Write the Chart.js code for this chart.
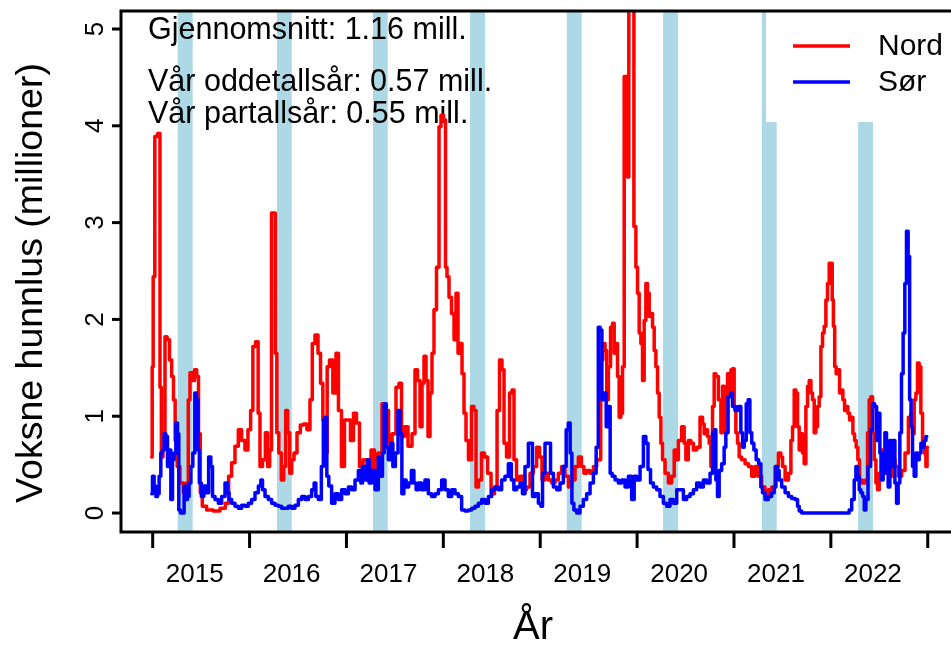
<!DOCTYPE html>
<html><head><meta charset="utf-8">
<script src="https://cdn.jsdelivr.net/npm/chart.js@4.4.0/dist/chart.umd.min.js"></script>
<style>html,body{margin:0;padding:0;background:#fff}#wrap{width:951px;height:646px;position:relative}</style>
</head><body><div id="wrap"><canvas id="c"></canvas></div>
<script>
// ---- data ----
const yearTicks = [2015, 2016, 2017, 2018, 2019, 2020, 2021, 2022, 2023];
const yearLabels = ['2015', '2016', '2017', '2018', '2019', '2020', '2021', '2022'];
const yTicks = [0, 1, 2, 3, 4, 5];
const springStart = [2015.258, 2016.283, 2017.274, 2018.275, 2019.274, 2020.268, 2021.287, 2022.281];
const springEnd   = [2015.413, 2016.435, 2017.426, 2018.430, 2019.428, 2020.423, 2021.441, 2022.435];
const seriesNames = ['Nord', 'Sør'];
const notes = ['Gjennomsnitt: 1.16 mill.', 'Vår oddetallsår: 0.57 mill.', 'Vår partallsår: 0.55 mill.'];
const xTitle = 'År';
const yTitle = 'Voksne hunnlus (millioner)';

const nordX = [2014.990,2015.000,2015.010,2015.034,2015.068,2015.083,2015.096,2015.117,2015.137,2015.161,2015.186,2015.206,2015.223,2015.241,2015.264,2015.299,2015.333,2015.357,2015.378,2015.392,2015.419,2015.444,2015.465,2015.481,2015.502,2015.522,2015.591,2015.661,2015.729,2015.770,2015.798,2015.832,2015.867,2015.901,2015.935,2015.970,2015.997,
2016.025,2016.043,2016.080,2016.097,2016.118,2016.149,2016.177,2016.197,2016.218,2016.235,2016.259,2016.273,2016.290,2016.314,2016.342,2016.363,2016.383,2016.404,2016.425,2016.445,2016.472,2016.507,2016.541,2016.575,2016.610,2016.637,2016.658,2016.693,2016.720,2016.745,2016.768,2016.789,2016.813,2016.837,2016.882,2016.902,2016.933,2016.964,2016.995,
2017.026,2017.057,2017.088,2017.119,2017.150,2017.192,2017.233,2017.274,2017.305,2017.346,2017.388,2017.419,2017.450,2017.491,2017.532,2017.553,2017.584,2017.615,2017.656,2017.697,2017.718,2017.749,2017.770,2017.790,2017.811,2017.832,2017.852,2017.873,2017.893,2017.914,2017.945,2017.966,2017.986,
2018.017,2018.028,2018.048,2018.069,2018.100,2018.121,2018.141,2018.162,2018.183,2018.203,2018.224,2018.244,2018.275,2018.306,2018.327,2018.348,2018.379,2018.410,2018.441,2018.472,2018.513,2018.544,2018.565,2018.595,2018.616,2018.637,2018.668,2018.699,2018.719,2018.740,2018.771,2018.809,2018.843,2018.877,2018.912,2018.946,2018.980,
2019.005,2019.032,2019.067,2019.101,2019.135,2019.170,2019.204,2019.238,2019.274,2019.308,2019.342,2019.377,2019.411,2019.439,2019.462,2019.497,2019.532,2019.566,2019.600,2019.614,2019.635,2019.659,2019.680,2019.693,2019.714,2019.738,2019.755,2019.772,2019.790,2019.806,2019.824,2019.841,2019.858,2019.876,2019.893,2019.909,2019.920,2019.955,2019.979,2019.996,
2020.013,2020.030,2020.048,2020.064,2020.082,2020.099,2020.116,2020.134,2020.151,2020.168,2020.185,2020.203,2020.219,2020.237,2020.254,2020.271,2020.306,2020.340,2020.374,2020.392,2020.409,2020.443,2020.477,2020.495,2020.512,2020.546,2020.564,2020.598,2020.632,2020.667,2020.684,2020.701,2020.719,2020.735,2020.753,2020.770,2020.787,2020.804,2020.822,2020.856,2020.874,2020.890,2020.907,2020.925,2020.942,2020.960,2020.977,2020.993,
2021.011,2021.028,2021.045,2021.062,2021.097,2021.132,2021.166,2021.200,2021.235,2021.269,2021.303,2021.338,2021.372,2021.406,2021.441,2021.475,2021.493,2021.510,2021.545,2021.579,2021.596,2021.613,2021.630,2021.648,2021.664,2021.682,2021.699,2021.716,2021.733,2021.751,2021.768,2021.785,2021.803,2021.819,2021.837,2021.854,2021.871,2021.888,2021.906,2021.922,2021.940,2021.957,2021.974,2021.992,
2022.009,2022.019,2022.033,2022.046,2022.063,2022.081,2022.099,2022.115,2022.133,2022.150,2022.167,2022.184,2022.202,2022.219,2022.236,2022.253,2022.270,2022.287,2022.305,2022.340,2022.370,2022.387,2022.404,2022.422,2022.439,2022.456,2022.474,2022.490,2022.508,2022.525,2022.542,2022.559,2022.577,2022.593,2022.611,2022.628,2022.645,2022.680,2022.714,2022.748,2022.783,2022.817,2022.835,2022.851,2022.869,2022.886,2022.903,2022.920,2022.938,2022.955,2022.972,2022.990,2022.996];
const nordY = [0.58,1.51,2.44,3.89,3.92,1.30,0.58,0.83,1.82,1.79,1.58,1.41,1.17,0.75,0.48,0.31,0.21,0.31,1.17,1.45,1.37,1.48,1.41,0.82,0.21,0.07,0.03,0.02,0.05,0.10,0.38,0.52,0.69,0.86,0.75,0.65,0.86,
1.06,1.72,1.77,1.03,0.48,0.55,0.83,0.48,0.65,3.10,3.10,1.65,0.83,0.62,0.34,0.48,1.06,0.83,0.41,0.55,0.62,0.83,0.91,0.92,0.86,1.17,1.75,1.84,1.65,1.34,0.96,0.62,1.51,1.58,1.24,1.65,1.06,0.48,0.96,
0.96,0.75,1.03,0.93,0.48,0.55,0.45,0.65,0.45,0.62,1.13,1.06,0.72,0.82,1.30,1.34,0.79,0.89,0.69,0.82,1.48,1.37,0.89,1.34,1.62,1.37,0.79,1.24,1.65,2.10,2.54,3.99,4.11,
4.06,2.54,2.44,2.23,2.06,1.79,2.27,1.65,1.75,1.44,1.03,0.75,0.55,1.10,1.06,0.27,0.34,0.62,0.58,0.41,0.20,0.27,1.06,1.58,1.48,0.72,0.58,1.24,1.27,0.55,0.34,0.38,0.24,0.27,0.41,0.48,0.68,
0.58,0.34,0.41,0.34,0.31,0.34,0.41,0.48,0.38,0.27,0.34,0.48,0.58,0.48,0.41,0.44,0.41,0.48,0.55,0.55,1.58,1.75,1.68,1.17,1.51,1.92,1.96,1.65,1.75,1.41,0.99,1.03,1.51,4.51,4.51,3.47,5.60,5.60,2.96,2.54,
2.27,1.86,1.75,1.37,1.99,2.37,2.27,2.03,2.06,1.92,1.68,1.51,1.24,0.99,0.72,0.55,0.41,0.31,0.38,0.65,0.55,0.75,0.89,0.72,0.55,0.75,0.72,0.65,0.68,0.99,0.92,0.82,0.86,0.79,0.72,0.48,1.10,1.44,1.41,1.17,0.83,1.31,1.10,0.83,1.44,1.24,1.48,1.49,
1.10,0.83,0.72,0.58,0.55,0.51,0.48,0.38,0.48,0.38,0.27,0.20,0.24,0.27,0.48,0.62,0.58,0.48,0.34,0.41,0.75,0.89,1.27,1.24,0.89,0.65,0.82,0.62,0.51,1.10,1.31,1.37,1.24,1.17,0.83,0.89,1.10,1.20,1.72,1.86,1.93,2.20,2.37,2.58,
2.58,2.20,1.93,1.51,1.44,1.48,1.24,1.27,1.17,1.06,1.10,1.03,0.96,0.99,0.82,0.75,0.68,0.55,0.34,0.31,0.34,0.83,1.17,1.20,0.83,0.55,0.31,0.24,0.41,0.65,0.48,0.55,0.41,0.65,0.48,0.38,0.55,0.48,0.38,0.44,0.62,0.99,1.03,0.82,1.17,1.24,1.55,1.51,1.03,0.75,0.62,0.48,0.68];

const sorX = [2014.990,2015.006,2015.024,2015.041,2015.058,2015.075,2015.093,2015.109,2015.127,2015.145,2015.161,2015.179,2015.196,2015.213,2015.230,2015.248,2015.264,2015.275,2015.299,2015.316,2015.333,2015.351,2015.367,2015.385,2015.403,2015.426,2015.444,2015.460,2015.475,2015.488,2015.516,2015.540,2015.564,2015.591,2015.609,2015.626,2015.661,2015.695,2015.729,2015.764,2015.780,2015.798,2015.832,2015.867,2015.901,2015.935,2015.970,
2016.004,2016.038,2016.074,2016.108,2016.125,2016.142,2016.177,2016.211,2016.245,2016.280,2016.314,2016.348,2016.383,2016.417,2016.451,2016.486,2016.521,2016.555,2016.590,2016.624,2016.658,2016.675,2016.693,2016.727,2016.755,2016.768,2016.789,2016.806,2016.830,2016.864,2016.899,2016.933,2016.968,
2017.003,2017.037,2017.071,2017.106,2017.140,2017.157,2017.174,2017.209,2017.226,2017.243,2017.277,2017.312,2017.346,2017.363,2017.380,2017.398,2017.422,2017.442,2017.467,2017.491,2017.519,2017.546,2017.563,2017.581,2017.604,2017.628,2017.656,2017.684,2017.708,2017.731,2017.759,2017.793,2017.828,2017.862,2017.897,2017.932,2017.966,
2018.000,2018.035,2018.069,2018.103,2018.138,2018.172,2018.206,2018.241,2018.275,2018.310,2018.344,2018.379,2018.413,2018.448,2018.482,2018.516,2018.551,2018.585,2018.619,2018.654,2018.688,2018.716,2018.740,2018.774,2018.809,2018.825,2018.861,2018.895,2018.912,2018.929,2018.964,2018.998,
2019.016,2019.032,2019.067,2019.094,2019.119,2019.153,2019.187,2019.222,2019.256,2019.280,2019.300,2019.318,2019.336,2019.359,2019.393,2019.428,2019.462,2019.497,2019.532,2019.566,2019.589,2019.610,2019.628,2019.645,2019.669,2019.693,2019.713,2019.731,2019.755,2019.790,2019.824,2019.858,2019.893,2019.927,2019.961,2019.979,
2020.013,2020.048,2020.082,2020.099,2020.126,2020.151,2020.185,2020.219,2020.254,2020.288,2020.322,2020.357,2020.392,2020.426,2020.461,2020.495,2020.529,2020.564,2020.598,2020.632,2020.667,2020.701,2020.735,2020.771,2020.787,2020.804,2020.822,2020.838,2020.856,2020.890,2020.907,2020.925,2020.952,2020.977,2020.993,
2021.028,2021.062,2021.080,2021.097,2021.115,2021.138,2021.155,2021.173,2021.194,2021.217,2021.241,2021.269,2021.286,2021.303,2021.338,2021.372,2021.406,2021.424,2021.441,2021.458,2021.475,2021.510,2021.545,2021.579,2021.613,2021.648,2021.664,2021.682,2021.716,
2022.180,2022.198,2022.232,2022.250,2022.267,2022.284,2022.301,2022.319,2022.336,2022.353,2022.370,2022.397,2022.422,2022.439,2022.464,2022.480,2022.497,2022.515,2022.531,2022.549,2022.566,2022.583,2022.600,2022.618,2022.634,2022.652,2022.670,2022.686,2022.703,2022.721,2022.737,2022.755,2022.772,2022.789,2022.806,2022.820,2022.835,2022.851,2022.869,2022.886,2022.903,2022.920,2022.938,2022.955,2022.972,2022.990];
const sorY = [0.20,0.38,0.28,0.17,0.20,0.38,0.62,0.65,0.82,0.79,0.48,0.65,0.14,0.55,0.62,0.93,0.82,0.03,0.00,0.00,0.28,0.14,0.17,0.31,0.48,0.62,1.24,1.17,0.65,0.31,0.17,0.28,0.21,0.58,0.48,0.17,0.14,0.10,0.17,0.31,0.21,0.14,0.10,0.07,0.05,0.08,0.07,
0.10,0.14,0.21,0.28,0.34,0.24,0.17,0.14,0.10,0.08,0.07,0.05,0.05,0.07,0.05,0.08,0.14,0.17,0.14,0.17,0.24,0.31,0.17,0.14,0.48,0.96,0.99,0.38,0.28,0.10,0.20,0.14,0.24,
0.20,0.27,0.24,0.34,0.44,0.31,0.48,0.34,0.55,0.31,0.44,0.24,0.58,0.38,0.62,1.13,0.68,0.55,0.72,0.48,0.62,1.06,0.82,0.20,0.34,0.27,0.31,0.44,0.31,0.24,0.31,0.24,0.34,0.20,0.17,0.20,0.24,
0.34,0.24,0.17,0.24,0.20,0.17,0.03,0.02,0.03,0.05,0.07,0.10,0.14,0.10,0.17,0.24,0.27,0.24,0.34,0.38,0.51,0.34,0.24,0.27,0.31,0.20,0.48,0.72,0.72,0.17,0.20,0.10,
0.07,0.41,0.72,0.72,0.41,0.27,0.24,0.31,0.48,0.86,0.93,0.62,0.10,0.03,0.00,0.07,0.14,0.20,0.31,0.41,0.68,1.92,1.89,1.17,1.24,0.89,1.10,0.41,0.38,0.34,0.31,0.34,0.27,0.38,0.14,0.38,
0.34,0.48,0.79,0.72,0.45,0.31,0.27,0.24,0.17,0.10,0.07,0.14,0.10,0.24,0.24,0.14,0.17,0.20,0.24,0.31,0.27,0.34,0.31,0.41,0.83,0.86,0.34,0.17,0.44,0.51,0.68,0.83,1.20,1.24,1.10,
1.06,1.10,0.83,0.68,0.75,1.13,1.17,0.83,0.72,0.65,0.55,0.51,0.27,0.21,0.14,0.17,0.21,0.27,0.48,0.44,0.34,0.27,0.21,0.17,0.15,0.14,0.07,0.02,0.00,
0.00,0.03,0.14,0.34,0.48,0.38,0.24,0.21,0.17,0.03,0.14,0.48,0.86,1.13,1.10,0.75,1.03,0.62,0.34,0.41,0.83,0.48,0.27,0.75,0.48,0.75,0.31,0.10,0.31,0.83,1.44,1.86,2.37,2.91,2.65,1.17,0.89,0.48,0.38,0.62,0.55,0.62,0.72,0.68,0.75,0.79];

// ---- drawing ----
const FONT = '"Liberation Sans", Arial, Helvetica, sans-serif';
const deco = {
  id: 'deco',
  beforeDatasetsDraw(chart) {
    const { ctx, chartArea: a, scales: { x } } = chart;
    ctx.save();
    ctx.fillStyle = '#ADD8E6';
    for (let i = 0; i < springStart.length; i++) {
      const x1 = x.getPixelForValue(springStart[i]);
      const x2 = x.getPixelForValue(springEnd[i]);
      ctx.fillRect(x1, a.top, x2 - x1, a.bottom - a.top);
    }
    ctx.fillStyle = '#000';
    ctx.font = '30.5px ' + FONT;
    ctx.textAlign = 'left';
    ctx.textBaseline = 'alphabetic';
    ctx.fillText(notes[0], 148, 39);
    ctx.fillText(notes[1], 148, 91);
    ctx.fillText(notes[2], 148, 123);
    ctx.restore();
  },
  afterDatasetsDraw(chart) {
    const { ctx, chartArea: a, scales: { x, y } } = chart;
    const W = chart.width;
    ctx.save();
    // legend
    ctx.fillStyle = '#fff';
    ctx.fillRect(766, a.top, W - 766, 122 - a.top);
    const colors = ['#FF0000', '#0000FF'];
    const ly = [46, 82];
    ctx.lineWidth = 3.5;
    ctx.lineCap = 'butt';
    ctx.font = '30px ' + FONT;
    ctx.textAlign = 'left';
    ctx.textBaseline = 'middle';
    for (let i = 0; i < 2; i++) {
      ctx.strokeStyle = colors[i];
      ctx.beginPath(); ctx.moveTo(793, ly[i]); ctx.lineTo(850, ly[i]); ctx.stroke();
      ctx.fillStyle = '#000';
      ctx.fillText(seriesNames[i], 878, ly[i] + 1);
    }
    // box
    ctx.strokeStyle = '#000';
    ctx.lineWidth = 3;
    ctx.lineJoin = 'miter';
    ctx.beginPath();
    ctx.moveTo(W + 5, a.top); ctx.lineTo(a.left, a.top); ctx.lineTo(a.left, a.bottom); ctx.lineTo(W + 5, a.bottom);
    ctx.stroke();
    // y ticks
    ctx.fillStyle = '#000';
    ctx.font = '26px ' + FONT;
    for (const v of yTicks) {
      const py = y.getPixelForValue(v);
      ctx.beginPath(); ctx.moveTo(a.left - 9, py); ctx.lineTo(a.left, py); ctx.stroke();
      ctx.save();
      ctx.translate(103, py);
      ctx.rotate(-Math.PI / 2);
      ctx.textAlign = 'center';
      ctx.textBaseline = 'alphabetic';
      ctx.fillText(String(v), 0, 0);
      ctx.restore();
    }
    // x ticks
    for (const t of yearTicks) {
      const px = x.getPixelForValue(t);
      ctx.beginPath(); ctx.moveTo(px, a.bottom); ctx.lineTo(px, a.bottom + 16); ctx.stroke();
    }
    ctx.textAlign = 'center';
    ctx.textBaseline = 'alphabetic';
    for (let i = 0; i < yearLabels.length; i++) {
      const px = x.getPixelForValue(yearTicks[i] + 0.434);
      ctx.fillText(yearLabels[i], px, 582);
    }
    // titles
    ctx.font = '40px ' + FONT;
    ctx.fillText(xTitle, 533, 639);
    ctx.save();
    ctx.translate(42, 283);
    ctx.rotate(-Math.PI / 2);
    ctx.font = '37.5px ' + FONT;
    ctx.fillText(yTitle, 0, 0);
    ctx.restore();
    ctx.restore();
  }
};

const pts = (xs, ys) => xs.map((t, i) => ({ x: t, y: ys[i] }));
new Chart(document.getElementById('c'), {
  type: 'line',
  data: {
    datasets: [
      { label: seriesNames[0], data: pts(nordX, nordY), borderColor: '#FF0000', borderWidth: 3.5, pointRadius: 0, stepped: 'middle', borderJoinStyle: 'round', borderCapStyle: 'round', fill: false, order: 2 },
      { label: seriesNames[1], data: pts(sorX, sorY), borderColor: '#0000FF', borderWidth: 3.5, pointRadius: 0, stepped: 'middle', borderJoinStyle: 'round', borderCapStyle: 'round', fill: false, order: 1 }
    ]
  },
  options: {
    responsive: true,
    maintainAspectRatio: false,
    animation: false,
    layout: { padding: { left: 121, top: 11, right: 0, bottom: 114 } },
    scales: {
      x: { type: 'linear', min: 2014.673, max: 2023.24, display: false },
      y: { min: -0.196, max: 5.186, display: false }
    },
    plugins: { legend: { display: false }, tooltip: { enabled: false } }
  },
  plugins: [deco]
});
</script>
</body></html>
